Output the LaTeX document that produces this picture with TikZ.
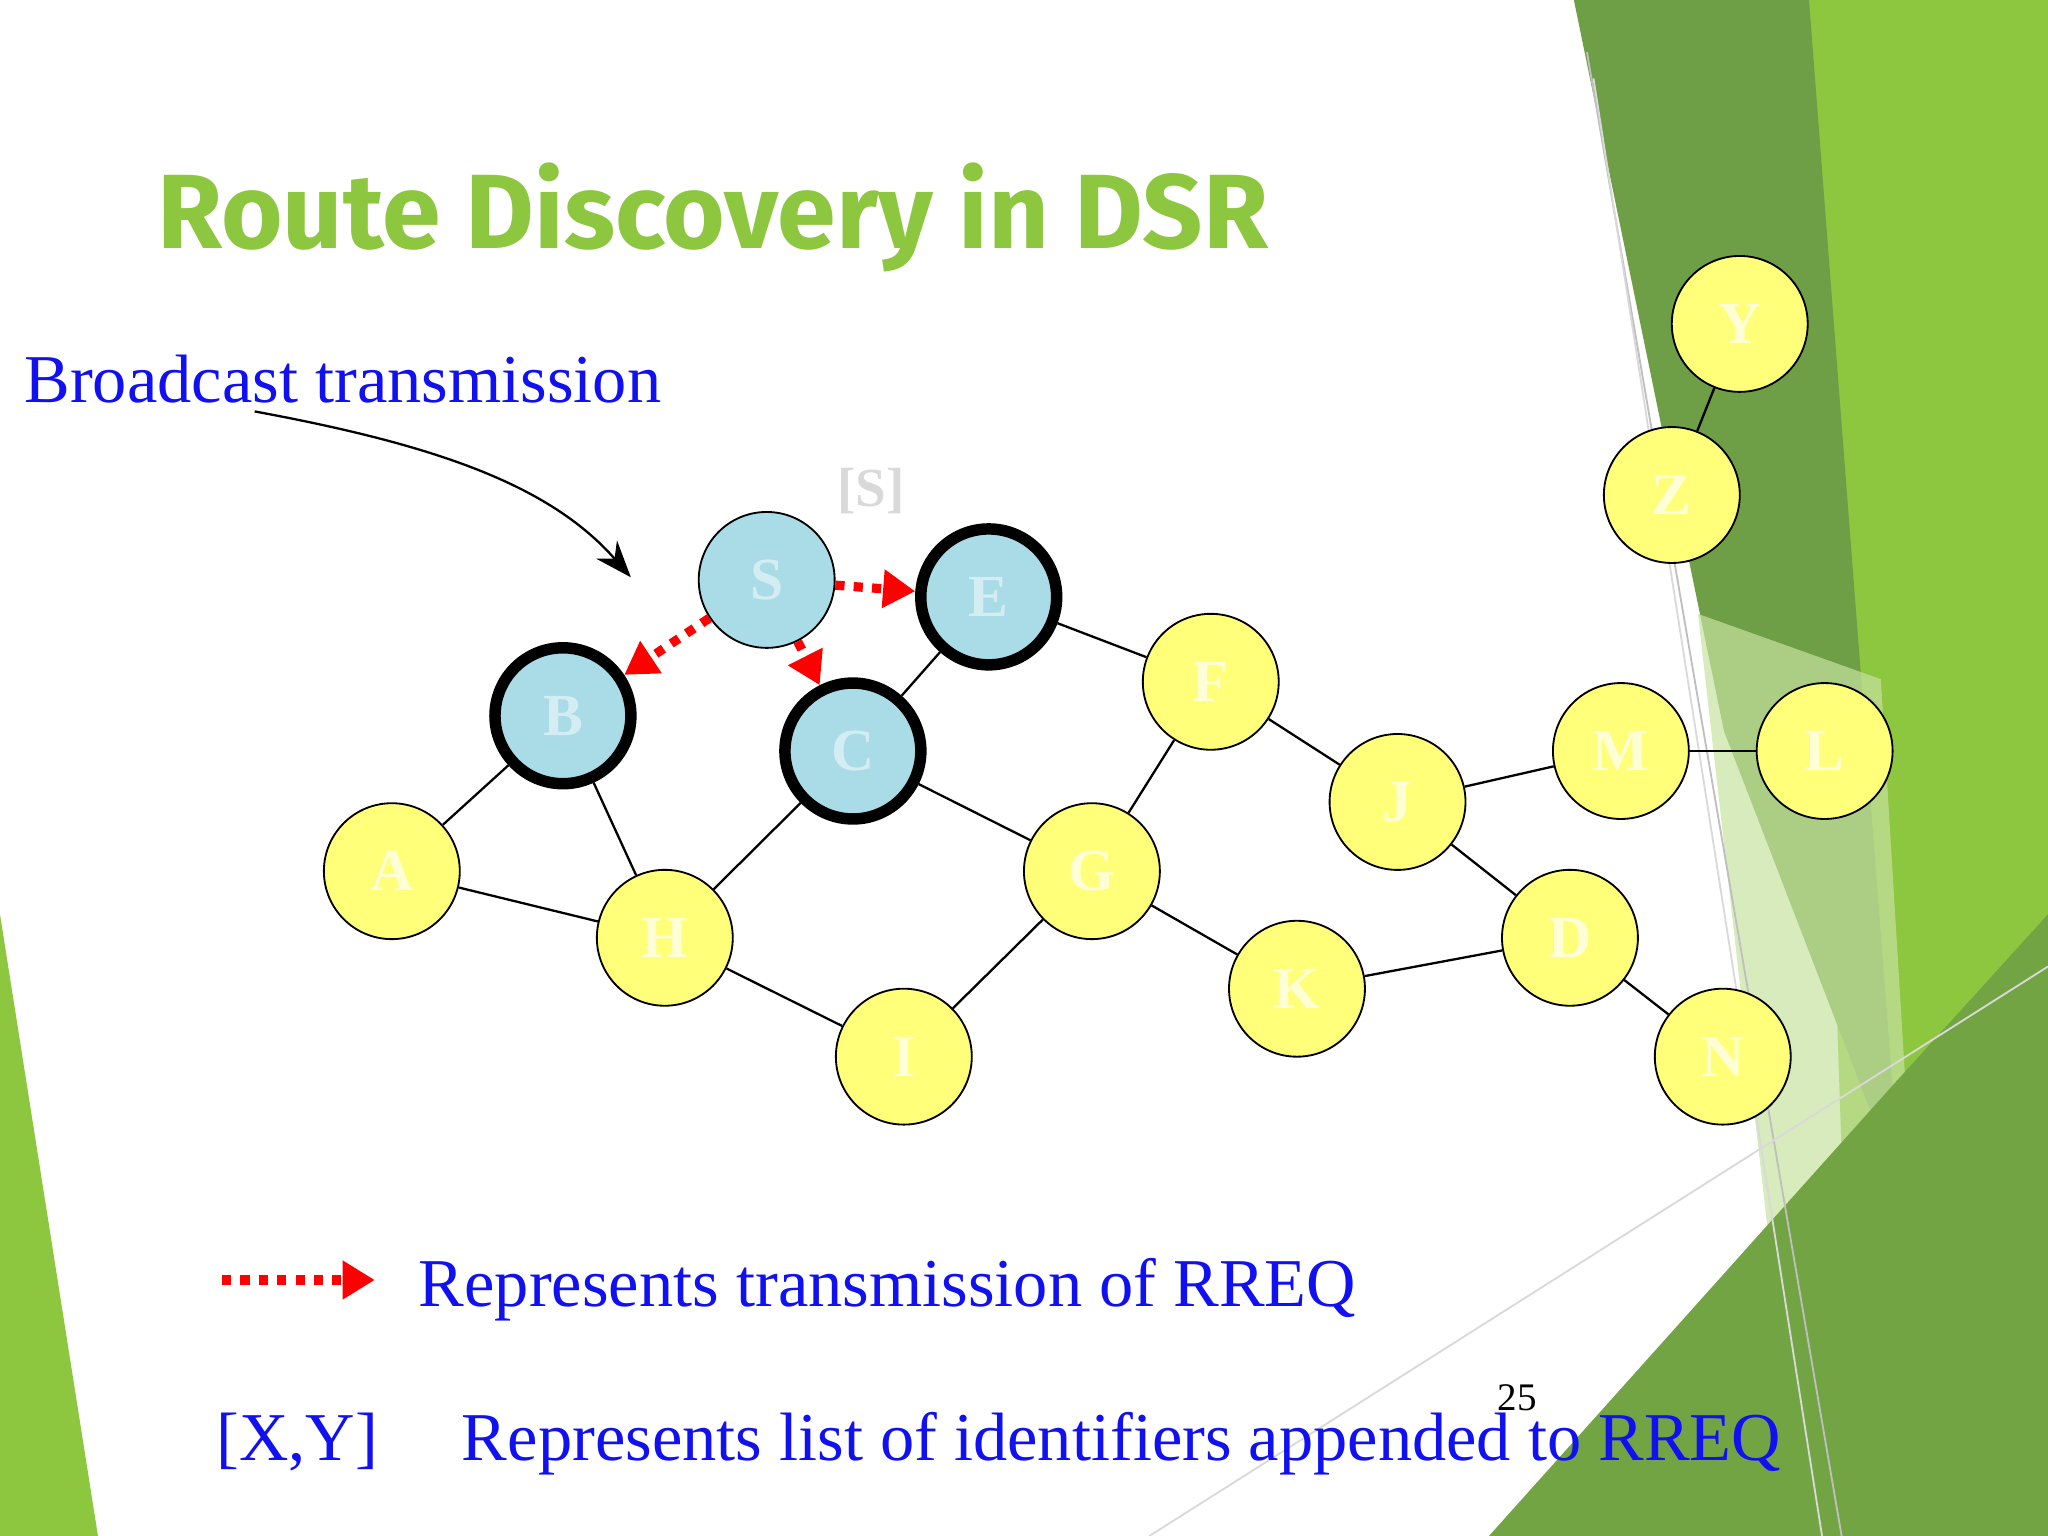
\documentclass[tikz,border=0pt]{standalone}
\usepackage{fontspec}
\setmainfont{Liberation Serif}
\newfontfamily\titlefont{Fira Sans}
\usetikzlibrary{arrows.meta}
\definecolor{tgreen}{HTML}{8DC63F}
\definecolor{dgreen}{HTML}{6E9E45}
\definecolor{ygreen}{HTML}{FFFF7A}
\definecolor{bfill}{HTML}{A9DCE6}
\definecolor{tblue}{HTML}{1010F0}
\tikzset{
 nd/.style={circle,draw=black,fill=ygreen,minimum size=1.04cm,inner sep=0pt,font=\bfseries\fontsize{13}{13}\selectfont,text=ygreen!30!white},
 bn/.style={nd,fill=bfill,text=bfill!50!white},
 thk/.style={line width=2.5pt},
 ed/.style={draw=black,line width=0.5pt},
 rq/.style={draw=red,line width=2pt,dotted,-{Triangle[length=7pt,width=8pt,fill=red]}},
 blt/.style={text=tblue,anchor=base west,inner sep=0pt,font=\fontsize{14.9}{14.9}\selectfont}
}
\begin{document}
\begin{tikzpicture}[x=0.01cm,y=-0.01cm]
\useasboundingbox (0,0) rectangle (1568,1176);
% background
\fill[tgreen] (1380,0)--(1568,0)--(1568,1176)--(1420,1176)--cycle;
\fill[dgreen] (1205,0)--(1385,0)--(1455,910)--(1320,560)--cycle;
\fill[tgreen!50!white,opacity=0.7] (1300,470)--(1440,520)--(1480,1176)--(1360,1000)--cycle;
\fill[dgreen!85!tgreen] (1140,1176)--(1450,830)--(1568,700)--(1568,1176)--cycle;
\fill[tgreen] (0,700)--(75,1176)--(0,1176)--cycle;
\draw[gray!50] (1215,40)--(1410,1176);
\draw[gray!30] (880,1176)--(1568,740);
\draw[gray!30] (1220,60)--(1395,1176);
% title
\node[anchor=base west,inner sep=0pt,text=tgreen,font=\titlefont\bfseries\fontsize{23}{23}\selectfont] (title) at (120,190) {Route Discovery in DSR};
\node[blt] (bt) at (18,308) {Broadcast transmission};
\node[text=gray!30,font=\bfseries\fontsize{12}{12}\selectfont] (sl) at (667,376) {[S]};
% nodes
\node[bn] (S) at (587,444) {S};
\node[bn,thk] (E) at (757,457) {E};
\node[bn,thk] (B) at (431,548) {B};
\node[bn,thk] (C) at (653,575) {C};
\node[nd] (F) at (927,522) {F};
\node[nd] (J) at (1070,614) {J};
\node[nd] (M) at (1241,575) {M};
\node[nd] (L) at (1397,575) {L};
\node[nd] (A) at (300,667) {A};
\node[nd] (H) at (509,718) {H};
\node[nd] (G) at (836,667) {G};
\node[nd] (K) at (993,757) {K};
\node[nd] (D) at (1202,718) {D};
\node[nd] (N) at (1319,809) {N};
\node[nd] (I) at (692,809) {I};
\node[nd] (Y) at (1332,248) {Y};
\node[nd] (Z) at (1280,379) {Z};
\foreach \a/\b in {B/A,B/H,A/H,H/C,H/I,C/E,C/G,E/F,F/G,F/J,G/I,G/K,J/M,M/L,J/D,K/D,D/N,Y/Z}
  \draw[ed] (\a)--(\b);
\draw[rq] (S)--(E);
\draw[rq] (S)--(B);
\draw[rq] (S)--(C);
\coordinate (bs) at (195,315);
\coordinate (be) at (483,442);
\draw[-{Stealth[length=8pt]},line width=0.5pt] (bs) .. controls (330,340) and (420,370) .. (be);
% legend
\coordinate (l1) at (170,980); \coordinate (l2) at (287,980);
\draw[rq] (l1)--(l2);
\node[blt] (t1) at (320,1000) {Represents transmission of RREQ};
\node[blt] (t2) at (165,1118) {[X,Y]};
\node[blt] (t3) at (353,1118) {Represents list of identifiers appended to RREQ};
\node[anchor=base west,inner sep=0pt,font=\fontsize{8.5}{8.5}\selectfont] (pg) at (1146,1080) {25};
\end{tikzpicture}
\end{document}
